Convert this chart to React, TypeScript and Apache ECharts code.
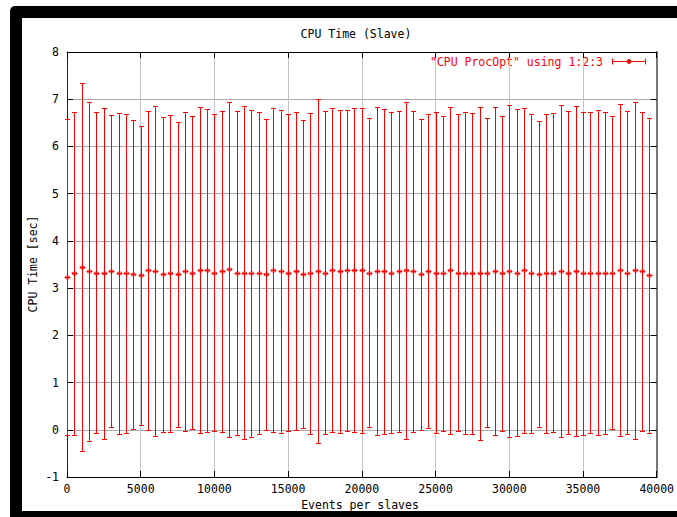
import React, { useEffect, useRef } from "react";
import * as echarts from "echarts";

const xValues = [
  0, 500, 1000, 1500, 2000, 2500, 3000, 3500, 4000, 4500,
  5000, 5500, 6000, 6500, 7000, 7500, 8000, 8500, 9000, 9500,
  10000, 10500, 11000, 11500, 12000, 12500, 13000, 13500, 14000, 14500,
  15000, 15500, 16000, 16500, 17000, 17500, 18000, 18500, 19000, 19500,
  20000, 20500, 21000, 21500, 22000, 22500, 23000, 23500, 24000, 24500,
  25000, 25500, 26000, 26500, 27000, 27500, 28000, 28500, 29000, 29500,
  30000, 30500, 31000, 31500, 32000, 32500, 33000, 33500, 34000, 34500,
  35000, 35500, 36000, 36500, 37000, 37500, 38000, 38500, 39000, 39500,
];

const cpuTime = [
  3.24, 3.31, 3.45, 3.36, 3.33, 3.31, 3.36, 3.31, 3.31, 3.29,
  3.27, 3.38, 3.36, 3.29, 3.31, 3.29, 3.36, 3.33, 3.38, 3.38,
  3.33, 3.36, 3.40, 3.33, 3.33, 3.31, 3.33, 3.29, 3.38, 3.36,
  3.33, 3.36, 3.29, 3.31, 3.36, 3.33, 3.38, 3.36, 3.38, 3.38,
  3.38, 3.33, 3.36, 3.36, 3.33, 3.36, 3.38, 3.36, 3.29, 3.36,
  3.33, 3.31, 3.38, 3.33, 3.33, 3.31, 3.31, 3.33, 3.36, 3.31,
  3.36, 3.33, 3.38, 3.31, 3.29, 3.31, 3.33, 3.36, 3.33, 3.36,
  3.31, 3.33, 3.33, 3.33, 3.33, 3.38, 3.33, 3.38, 3.36, 3.27,
];

const cpuDelta = [
  3.35, 3.42, 3.90, 3.59, 3.39, 3.50, 3.30, 3.40, 3.38, 3.28,
  3.17, 3.38, 3.49, 3.33, 3.35, 3.23, 3.38, 3.32, 3.45, 3.42,
  3.35, 3.40, 3.55, 3.43, 3.53, 3.47, 3.41, 3.30, 3.43, 3.42,
  3.35, 3.36, 3.26, 3.40, 3.65, 3.42, 3.43, 3.42, 3.40, 3.43,
  3.44, 3.27, 3.47, 3.44, 3.39, 3.40, 3.57, 3.40, 3.30, 3.32,
  3.39, 3.34, 3.46, 3.36, 3.41, 3.40, 3.52, 3.27, 3.47, 3.33,
  3.51, 3.46, 3.44, 3.38, 3.24, 3.37, 3.38, 3.51, 3.42, 3.49,
  3.42, 3.39, 3.45, 3.41, 3.32, 3.52, 3.42, 3.57, 3.38, 3.34,
];

const titleText = "CPU Time (Slave)";
const xAxisName = "Events per slaves";
const yAxisName = "CPU Time [sec]";
const legendText = '"CPU ProcOpt" using 1:2:3';

const FONT = "'DejaVu Sans Mono', 'Liberation Mono', monospace";
const RED = "#ff0000";

export default function App() {
  const ref = useRef<HTMLDivElement>(null);

  useEffect(() => {
    document.body.style.margin = "0";
    const chart = echarts.init(ref.current!, null, { renderer: "svg" });
    const data = xValues.map((x, i) => [x, cpuTime[i], cpuDelta[i]]);

    const tickStyle = { show: true, inside: true, length: 6, lineStyle: { color: "#000", width: 1 } };

    chart.setOption({
      animation: false,
      backgroundColor: "#ffffff",
      grid: { left: 67, right: 17, top: 52, bottom: 40, show: false },
      xAxis: [
        {
          type: "value",
          min: 0,
          max: 40000,
          interval: 5000,
          position: "bottom",
          axisLine: { show: true, onZero: false, lineStyle: { color: "#000", width: 1 } },
          axisTick: tickStyle,
          axisLabel: {
            color: "#000",
            fontFamily: FONT,
            fontSize: 11.5,
            margin: 6,
            formatter: (v: number) => String(v),
          },
          splitLine: { show: true, lineStyle: { color: "#c4c4c4", width: 1 } },
        },
        {
          type: "value",
          min: 0,
          max: 40000,
          interval: 5000,
          position: "top",
          axisLine: { show: true, onZero: false, lineStyle: { color: "#000", width: 1 } },
          axisTick: tickStyle,
          axisLabel: { show: false },
          splitLine: { show: false },
        },
      ],
      yAxis: [
        {
          type: "value",
          min: -1,
          max: 8,
          interval: 1,
          position: "left",
          axisLine: { show: true, onZero: false, lineStyle: { color: "#222", width: 1 } },
          axisTick: tickStyle,
          axisLabel: { color: "#000", fontFamily: FONT, fontSize: 11.5, margin: 8 },
          splitLine: { show: true, lineStyle: { color: "#aaaaaa", width: 1 } },
        },
        {
          type: "value",
          min: -1,
          max: 8,
          interval: 1,
          position: "right",
          axisLine: { show: true, onZero: false, lineStyle: { color: "#777", width: 2 } },
          axisTick: tickStyle,
          axisLabel: { show: false },
          splitLine: { show: false },
        },
      ],
      graphic: [
        {
          type: "rect",
          z: -10,
          silent: true,
          shape: { x: 10, y: 6, width: 720, height: 540, r: 5 },
          style: { fill: "#000" },
        },
        {
          type: "rect",
          z: -9,
          silent: true,
          shape: { x: 22, y: 18, width: 700, height: 493 },
          style: { fill: "#fff" },
        },
        {
          type: "text",
          x: 356,
          y: 34,
          style: {
            text: titleText,
            fontFamily: FONT,
            fontSize: 11.5,
            fill: "#000",
            align: "center",
            verticalAlign: "middle",
          },
        },
        {
          type: "text",
          x: 360,
          y: 505,
          style: {
            text: xAxisName,
            fontFamily: FONT,
            fontSize: 11.5,
            fill: "#000",
            align: "center",
            verticalAlign: "middle",
          },
        },
        {
          type: "text",
          x: 33,
          y: 264,
          rotation: Math.PI / 2,
          style: {
            text: yAxisName,
            fontFamily: FONT,
            fontSize: 11.5,
            fill: "#000",
            align: "center",
            verticalAlign: "middle",
          },
        },
        {
          type: "text",
          x: 603,
          y: 62,
          style: {
            text: legendText,
            fontFamily: FONT,
            fontSize: 11.5,
            fill: RED,
            align: "right",
            verticalAlign: "middle",
          },
        },
        {
          type: "line",
          shape: { x1: 612, y1: 61.5, x2: 646, y2: 61.5 },
          style: { stroke: RED, lineWidth: 1 },
        },
        {
          type: "line",
          shape: { x1: 612.5, y1: 58.5, x2: 612.5, y2: 64.5 },
          style: { stroke: RED, lineWidth: 1 },
        },
        {
          type: "line",
          shape: { x1: 645.5, y1: 58.5, x2: 645.5, y2: 64.5 },
          style: { stroke: RED, lineWidth: 1 },
        },
        {
          type: "circle",
          shape: { cx: 629, cy: 61.5, r: 2 },
          style: { fill: RED, stroke: RED, lineWidth: 1 },
        },
      ],
      series: [
        {
          type: "custom",
          xAxisIndex: 0,
          yAxisIndex: 0,
          data,
          encode: { x: 0, y: [1] },
          renderItem: (params: any, api: any) => {
            const x = api.value(0);
            const y = api.value(1);
            const d = api.value(2);
            const top = api.coord([x, y + d]);
            const bot = api.coord([x, y - d]);
            const mid = api.coord([x, y]);
            const px = Math.round(top[0]) + 0.5;
            const ty = Math.round(top[1]) + 0.5;
            const by = Math.round(bot[1]) + 0.5;
            const my = Math.round(mid[1]) + 0.5;
            const st = { stroke: RED, lineWidth: 1, fill: "none" };
            return {
              type: "group",
              children: [
                { type: "line", shape: { x1: px, y1: ty, x2: px, y2: by }, style: st },
                { type: "line", shape: { x1: px - 2.5, y1: ty, x2: px + 2.5, y2: ty }, style: st },
                { type: "line", shape: { x1: px - 2.5, y1: by, x2: px + 2.5, y2: by }, style: st },
                { type: "ellipse", shape: { cx: px, cy: my, rx: 2.5, ry: 1.5 }, style: st },
                { type: "line", shape: { x1: px - 2.5, y1: my, x2: px + 2.5, y2: my }, style: st },
              ],
            };
          },
        },
      ],
    });

    return () => chart.dispose();
  }, []);

  return (
    <div
      ref={ref}
      style={{ position: "fixed", left: 0, top: 0, width: 677, height: 517 }}
    />
  );
}
